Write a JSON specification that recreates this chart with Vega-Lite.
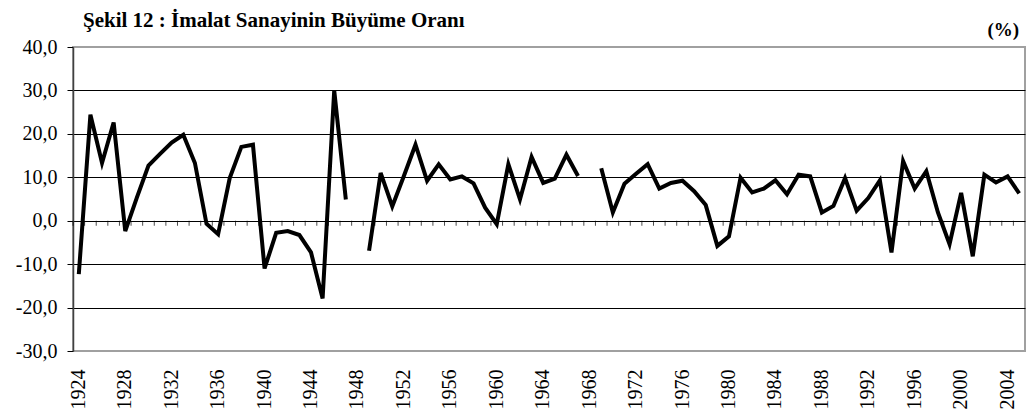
{
  "$schema": "https://vega.github.io/schema/vega-lite/v6.json",
  "autosize": "none",
  "width": 952,
  "height": 304,
  "padding": {"left": 73, "top": 47, "right": 2, "bottom": 68},
  "background": "white",
  "config": {
    "view": {"stroke": "#a0a0a0", "strokeWidth": 2},
    "font": "Liberation Serif, Times New Roman, serif"
  },
  "title": {
    "text": "Şekil 12 : İmalat Sanayinin Büyüme Oranı",
    "anchor": "start",
    "frame": "group",
    "font": "Liberation Serif, Times New Roman, serif",
    "fontSize": 21,
    "fontWeight": "bold",
    "color": "black",
    "dx": 10,
    "offset": -10
  },
  "data": {
    "values": [
      {"year": 1924, "value": -12.3}, {"year": 1925, "value": 24.4}, {"year": 1926, "value": 13.3}, {"year": 1927, "value": 22.6},
      {"year": 1928, "value": -2.4}, {"year": 1929, "value": 5.3}, {"year": 1930, "value": 12.7}, {"year": 1931, "value": 15.4},
      {"year": 1932, "value": 18.0}, {"year": 1933, "value": 19.8}, {"year": 1934, "value": 13.3}, {"year": 1935, "value": -0.7},
      {"year": 1936, "value": -3.1}, {"year": 1937, "value": 9.8}, {"year": 1938, "value": 17.0}, {"year": 1939, "value": 17.5},
      {"year": 1940, "value": -11.0}, {"year": 1941, "value": -2.8}, {"year": 1942, "value": -2.4}, {"year": 1943, "value": -3.3},
      {"year": 1944, "value": -7.3}, {"year": 1945, "value": -17.9}, {"year": 1946, "value": 30.0}, {"year": 1947, "value": 4.9},
      {"year": 1948, "value": null}, {"year": 1949, "value": -6.9}, {"year": 1950, "value": 11.0}, {"year": 1951, "value": 3.3},
      {"year": 1952, "value": 10.3}, {"year": 1953, "value": 17.5}, {"year": 1954, "value": 9.2}, {"year": 1955, "value": 13.0},
      {"year": 1956, "value": 9.5}, {"year": 1957, "value": 10.2}, {"year": 1958, "value": 8.6}, {"year": 1959, "value": 3.0},
      {"year": 1960, "value": -0.8}, {"year": 1961, "value": 13.0}, {"year": 1962, "value": 4.9}, {"year": 1963, "value": 14.7},
      {"year": 1964, "value": 8.7}, {"year": 1965, "value": 9.7}, {"year": 1966, "value": 15.2}, {"year": 1967, "value": 10.3},
      {"year": 1968, "value": null}, {"year": 1969, "value": 12.1}, {"year": 1970, "value": 1.9}, {"year": 1971, "value": 8.5},
      {"year": 1972, "value": 10.8}, {"year": 1973, "value": 13.0}, {"year": 1974, "value": 7.4}, {"year": 1975, "value": 8.7},
      {"year": 1976, "value": 9.2}, {"year": 1977, "value": 6.8}, {"year": 1978, "value": 3.6}, {"year": 1979, "value": -5.8},
      {"year": 1980, "value": -3.6}, {"year": 1981, "value": 9.9}, {"year": 1982, "value": 6.5}, {"year": 1983, "value": 7.4},
      {"year": 1984, "value": 9.3}, {"year": 1985, "value": 6.1}, {"year": 1986, "value": 10.6}, {"year": 1987, "value": 10.2},
      {"year": 1988, "value": 1.9}, {"year": 1989, "value": 3.4}, {"year": 1990, "value": 9.8}, {"year": 1991, "value": 2.3},
      {"year": 1992, "value": 5.2}, {"year": 1993, "value": 9.3}, {"year": 1994, "value": -7.3}, {"year": 1995, "value": 13.7},
      {"year": 1996, "value": 7.4}, {"year": 1997, "value": 11.4}, {"year": 1998, "value": 1.9}, {"year": 1999, "value": -5.4},
      {"year": 2000, "value": 6.4}, {"year": 2001, "value": -8.2}, {"year": 2002, "value": 10.6}, {"year": 2003, "value": 8.8},
      {"year": 2004, "value": 10.2}, {"year": 2005, "value": 6.3}
    ]
  },
  "layer": [
    {
      "mark": {"type": "tick", "orient": "vertical", "size": 5, "thickness": 1, "color": "black", "yOffset": 2.5},
      "encoding": {
        "x": {"field": "year", "type": "ordinal", "bandPosition": 0},
        "y": {"datum": 0, "type": "quantitative"}
      }
    },
    {
      "mark": {"type": "line", "color": "black", "strokeWidth": 4, "invalid": "break-paths-show-domains", "strokeJoin": "miter"},
      "encoding": {
        "x": {"field": "year", "type": "ordinal"},
        "y": {"field": "value", "type": "quantitative"}
      }
    },
    {
      "data": {"values": [{"label": "(%)"}]},
      "mark": {"type": "text", "align": "right", "baseline": "middle", "font": "Liberation Serif, Times New Roman, serif", "fontSize": 19, "fontWeight": "bold", "color": "black"},
      "encoding": {
        "text": {"field": "label"},
        "x": {"datum": 2005, "type": "ordinal"},
        "y": {"datum": 44, "type": "quantitative"}
      }
    }
  ],
  "encoding": {
    "x": {
      "field": "year",
      "type": "ordinal",
      "scale": {"paddingInner": 0, "paddingOuter": 0},
      "axis": {
        "title": null,
        "values": [1924, 1928, 1932, 1936, 1940, 1944, 1948, 1952, 1956, 1960, 1964, 1968, 1972, 1976, 1980, 1984, 1988, 1992, 1996, 2000, 2004],
        "labelAngle": -90,
        "labelFont": "Liberation Serif, Times New Roman, serif",
        "labelFontSize": 20,
        "labelColor": "black",
        "labelPadding": 18,
        "ticks": false,
        "tickSize": 0,
        "domain": false,
        "grid": false
      }
    },
    "y": {
      "type": "quantitative",
      "scale": {"domain": [-30, 40], "nice": false, "zero": false},
      "axis": {
        "title": null,
        "values": [-30, -20, -10, 0, 10, 20, 30, 40],
        "labelExpr": "(datum.value < 0 ? '-' : '') + replace(format(abs(datum.value), '.1f'), '.', ',')",
        "labelFont": "Liberation Serif, Times New Roman, serif",
        "labelFontSize": 20,
        "labelColor": "black",
        "labelPadding": 10,
        "tickSize": 6,
        "tickColor": "black",
        "domainColor": "#404040",
        "domainWidth": 1.5,
        "grid": true,
        "gridColor": {"condition": {"test": "datum.value === 40 || datum.value === -30", "value": "transparent"}, "value": "black"},
        "gridWidth": 1,
        "gridOpacity": 1
      }
    }
  }
}
